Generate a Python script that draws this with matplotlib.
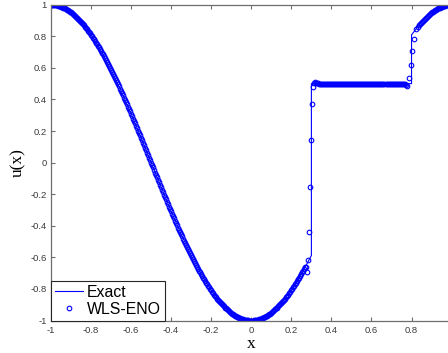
import numpy as np
import matplotlib
matplotlib.use('Agg')
import matplotlib.pyplot as plt

# ---- exact solution, sampled every 0.05 on the smooth parts ----
x_exact = [-1.00, -0.95, -0.90, -0.85, -0.80, -0.75, -0.70, -0.65, -0.60, -0.55,
           -0.50, -0.45, -0.40, -0.35, -0.30, -0.25, -0.20, -0.15, -0.10, -0.05,
           0.00, 0.05, 0.10, 0.15, 0.20, 0.25, 0.30,
           0.30, 0.80, 0.80, 0.85, 0.90, 0.95, 1.00]
u_exact = [1.000, 0.988, 0.951, 0.891, 0.809, 0.707, 0.588, 0.454, 0.309, 0.156,
           0.000, -0.156, -0.309, -0.454, -0.588, -0.707, -0.809, -0.891, -0.951, -0.988,
           -1.000, -0.988, -0.951, -0.891, -0.809, -0.707, -0.588,
           0.500, 0.500, 0.809, 0.891, 0.951, 0.988, 1.000]

# ---- WLS-ENO values ----
# smooth part, x = -1.000 ... 0.270 (step 0.005)
u_left = [1.000, 1.000, 1.000, 0.999, 0.998, 0.997, 0.996, 0.994, 0.992, 0.990,
          0.988, 0.985, 0.982, 0.979, 0.976, 0.972, 0.969, 0.965, 0.960, 0.956,
          0.951, 0.946, 0.941, 0.935, 0.930, 0.924, 0.918, 0.911, 0.905, 0.898,
          0.891, 0.884, 0.876, 0.869, 0.861, 0.853, 0.844, 0.836, 0.827, 0.818,
          0.809, 0.800, 0.790, 0.780, 0.771, 0.760, 0.750, 0.740, 0.729, 0.718,
          0.707, 0.696, 0.685, 0.673, 0.661, 0.649, 0.637, 0.625, 0.613, 0.600,
          0.588, 0.575, 0.562, 0.549, 0.536, 0.522, 0.509, 0.495, 0.482, 0.468,
          0.454, 0.440, 0.426, 0.412, 0.397, 0.383, 0.368, 0.353, 0.339, 0.324,
          0.309, 0.294, 0.279, 0.264, 0.249, 0.233, 0.218, 0.203, 0.187, 0.172,
          0.156, 0.141, 0.125, 0.110, 0.094, 0.078, 0.063, 0.047, 0.031, 0.016,
          0.000,
          -0.016, -0.031, -0.047, -0.063, -0.078, -0.094, -0.110, -0.125, -0.141, -0.156,
          -0.172, -0.187, -0.203, -0.218, -0.233, -0.249, -0.264, -0.279, -0.294, -0.309,
          -0.324, -0.339, -0.353, -0.368, -0.383, -0.397, -0.412, -0.426, -0.440, -0.454,
          -0.468, -0.482, -0.495, -0.509, -0.522, -0.536, -0.549, -0.562, -0.575, -0.588,
          -0.600, -0.613, -0.625, -0.637, -0.649, -0.661, -0.673, -0.685, -0.696, -0.707,
          -0.718, -0.729, -0.740, -0.750, -0.760, -0.771, -0.780, -0.790, -0.800, -0.809,
          -0.818, -0.827, -0.836, -0.844, -0.853, -0.861, -0.869, -0.876, -0.884, -0.891,
          -0.898, -0.905, -0.911, -0.918, -0.924, -0.930, -0.935, -0.941, -0.946, -0.951,
          -0.956, -0.960, -0.965, -0.969, -0.972, -0.976, -0.979, -0.982, -0.985, -0.988,
          -0.990, -0.992, -0.994, -0.996, -0.997, -0.998, -0.999, -1.000, -1.000, -1.000,
          -1.000, -1.000, -0.999, -0.998, -0.997, -0.996, -0.994, -0.992, -0.990, -0.988,
          -0.985, -0.982, -0.979, -0.976, -0.972, -0.969, -0.965, -0.960, -0.956, -0.951,
          -0.946, -0.941, -0.935, -0.930, -0.924, -0.918, -0.911, -0.905, -0.898, -0.891,
          -0.884, -0.876, -0.869, -0.861, -0.853, -0.844, -0.836, -0.827, -0.818, -0.809,
          -0.800, -0.790, -0.780, -0.771, -0.760, -0.750, -0.740, -0.729, -0.718, -0.707,
          -0.696, -0.685, -0.673, -0.661]
# first discontinuity
x_jump1 = [0.275, 0.280, 0.285, 0.290, 0.295, 0.300, 0.305, 0.310, 0.315]
u_jump1 = [-0.660, -0.690, -0.620, -0.440, -0.157, 0.140, 0.370, 0.480, 0.505]
# plateau, x = 0.320 ... 0.770 (step 0.005)
u_mid = [0.508, 0.505, 0.503, 0.501, 0.500, 0.500, 0.500, 0.500, 0.500, 0.500,
         0.500, 0.500, 0.500, 0.500, 0.500, 0.500, 0.500, 0.500, 0.500, 0.500,
         0.500, 0.500, 0.500, 0.500, 0.500, 0.500, 0.500, 0.500, 0.500, 0.500,
         0.500, 0.500, 0.500, 0.500, 0.500, 0.500, 0.500, 0.500, 0.500, 0.500,
         0.500, 0.500, 0.500, 0.500, 0.500, 0.500, 0.500, 0.500, 0.500, 0.500,
         0.500, 0.500, 0.500, 0.500, 0.500, 0.500, 0.500, 0.500, 0.500, 0.500,
         0.500, 0.500, 0.500, 0.500, 0.500, 0.500, 0.500, 0.500, 0.500, 0.500,
         0.500, 0.500, 0.500, 0.500, 0.500, 0.500, 0.500, 0.500, 0.500, 0.500,
         0.500, 0.500, 0.500, 0.500, 0.500, 0.500, 0.499, 0.498, 0.497, 0.495,
         0.492]
# second discontinuity
x_jump2 = [0.776, 0.789, 0.796, 0.804, 0.814, 0.823]
u_jump2 = [0.485, 0.538, 0.616, 0.709, 0.785, 0.844]
# smooth part, x = 0.830 ... 1.000 (step 0.005)
u_right = [0.861, 0.869, 0.876, 0.884, 0.891, 0.898, 0.905, 0.911, 0.918, 0.924,
           0.930, 0.935, 0.941, 0.946, 0.951, 0.956, 0.960, 0.965, 0.969, 0.972,
           0.976, 0.979, 0.982, 0.985, 0.988, 0.990, 0.992, 0.994, 0.996, 0.997,
           0.998, 0.999, 1.000, 1.000, 1.000]

x_num = np.concatenate([np.linspace(-1.0, 0.27, len(u_left)), x_jump1,
                        np.linspace(0.32, 0.77, len(u_mid)), x_jump2,
                        np.linspace(0.83, 1.0, len(u_right))])
u_num = np.concatenate([u_left, u_jump1, u_mid, u_jump2, u_right])

ticks = [-1, -0.8, -0.6, -0.4, -0.2, 0, 0.2, 0.4, 0.6, 0.8, 1]
tick_labels = ['-1', '-0.8', '-0.6', '-0.4', '-0.2', '0', '0.2', '0.4', '0.6', '0.8', '1']

plt.rcParams['font.family'] = ['Liberation Sans', 'DejaVu Sans']

W, H = 448, 353
fig = plt.figure(figsize=(W / 100, H / 100), dpi=100)
ax = fig.add_axes([51 / W, 32.5 / H, 400.6 / W, 315.8 / H])

ax.plot(x_exact, u_exact, color='#0000ff', lw=0.8, label='Exact')
ax.plot(x_num, u_num, 'o', color='#0000ff', mfc='none', ms=3.3, mew=0.8,
        label='WLS-ENO')

ax.set_xlim(-1, 1)
ax.set_ylim(-1, 1)
ax.set_xticks(ticks)
# the label at x = 1 falls past the right edge of the figure
ax.set_xticklabels(tick_labels[:-1] + [''])
ax.set_yticks(ticks)
ax.set_yticklabels(tick_labels)

axis_col = '#6e6e6e'
for s in ax.spines.values():
    s.set_color(axis_col)
    s.set_linewidth(0.9)
ax.tick_params(direction='in', length=3, width=0.8, color=axis_col,
               labelsize=6.8, labelcolor='#3a3a3a', top=True, right=True)
ax.tick_params(axis='x', pad=4)
ax.tick_params(axis='y', pad=3)

ax.set_xlabel('x', family='Liberation Serif', fontsize=12.5, labelpad=1)
ax.set_ylabel('u(x)', family='Liberation Serif', fontsize=12.5, labelpad=3)

leg = ax.legend(loc='lower left', borderaxespad=0, fontsize=11.4, numpoints=1,
                fancybox=False, framealpha=1, borderpad=0.25, labelspacing=0.1,
                handlelength=1.8, handletextpad=0.2)
leg.get_frame().set_edgecolor('#262626')
leg.get_frame().set_linewidth(0.8)

fig.savefig('out.png', dpi=100)
